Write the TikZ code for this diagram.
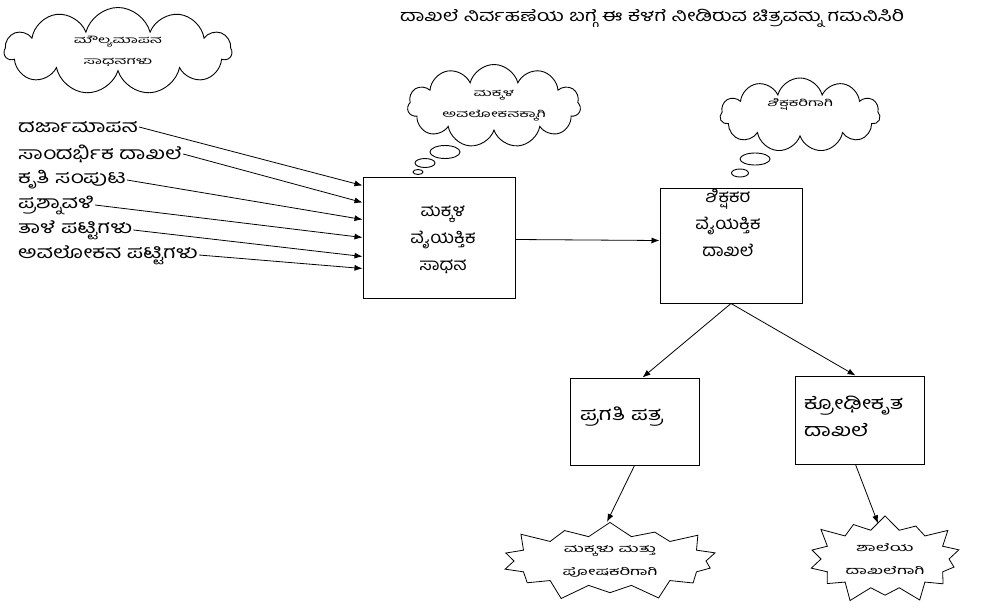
\documentclass[tikz,border=0pt]{standalone}
\usepackage{fontspec}
\newfontfamily\kn[Script=Kannada,FakeStretch=1.3]{Hind Mysuru}
\newfontfamily\knn[Script=Kannada,FakeStretch=1.1]{Hind Mysuru}
\newfontfamily\knw[Script=Kannada,FakeStretch=1.7]{Hind Mysuru}
\usetikzlibrary{shapes.symbols,shapes.geometric,arrows.meta}
\begin{document}
\begin{tikzpicture}[x=1pt,y=-1pt,
  every node/.style={font=\kn},
  box/.style={draw,line width=1pt,inner sep=0pt},
  ktext/.style={font=\knn\fontsize{17}{27}\selectfont,align=center,inner sep=0pt},
  ktextb/.style={font=\kn\fontsize{18}{27}\selectfont,inner sep=0pt},
  listtext/.style={font=\kn\fontsize{17.5}{16}\selectfont,anchor=west,inner sep=1pt},
  cloudbox/.style={cloud,draw,line width=0.9pt,cloud puffs=11,cloud ignores aspect,inner sep=0pt,
     font=\knw\fontsize{10}{21}\selectfont,align=center},
  bubble/.style={ellipse,draw,line width=0.9pt,inner sep=0pt},
  burst/.style={starburst,draw,line width=0.8pt,starburst points=14,starburst point height=19pt,
     inner sep=0pt,font=\knw\fontsize{11}{23}\selectfont,align=center},
  arr/.style={-{Latex[length=8pt,width=6pt]},line width=0.8pt}]
\useasboundingbox[fill=white] (0,0) rectangle (992,608);

% title
\node[font=\kn\fontsize{16.4}{18}\selectfont] (title) at (652,18) {ದಾಖಲೆ ನಿರ್ವಹಣೆಯ ಬಗ್ಗೆ ಈ ಕೆಳಗೆ ನೀಡಿರುವ ಚಿತ್ರವನ್ನು ಗಮನಿಸಿರಿ};

% clouds
\node[cloudbox,minimum width=227pt,minimum height=87pt] (c1) at (118,51) {ಮೌಲ್ಯಮಾಪನ\\ಸಾಧನಗಳು};
\node[cloudbox,minimum width=173pt,minimum height=83pt] (c2) at (494,106) {ಮಕ್ಕಳ\\ಅವಲೋಕನಕ್ಕಾಗಿ};
\node[cloudbox,minimum width=160pt,minimum height=74pt] (c3) at (800,115) {ಶಿಕ್ಷಕರಿಗಾಗಿ\\[4pt]};
\node[bubble,minimum width=30pt,minimum height=13pt] (b1) at (445,152) {};
\node[bubble,minimum width=20pt,minimum height=9pt] (b2) at (425,163) {};
\node[bubble,minimum width=10pt,minimum height=5pt] (b3) at (418,172) {};
\node[bubble,minimum width=30pt,minimum height=12pt] (b4) at (755,159) {};
\node[bubble,minimum width=17pt,minimum height=8pt] (b5) at (740,173) {};

% list
\node[listtext] (l1) at (17,127) {ದರ್ಜಾಮಾಪನ};
\node[listtext] (l2) at (17,154) {ಸಾಂದರ್ಭಿಕ ದಾಖಲೆ};
\node[listtext] (l3) at (17,180) {ಕೃತಿ ಸಂಪುಟ};
\node[listtext] (l4) at (17,205) {ಪ್ರಶ್ನಾವಳಿ};
\node[listtext] (l5) at (17,230) {ತಾಳೆ ಪಟ್ಟಿಗಳು};
\node[listtext] (l6) at (17,255) {ಅವಲೋಕನ ಪಟ್ಟಿಗಳು};

% boxes
\node[box,minimum width=152pt,minimum height=121pt] (m1) at (439,237.5) {};
\node[ktext] (m1t) at (443,240) {ಮಕ್ಕಳ\\ವೈಯಕ್ತಿಕ\\ಸಾಧನ};
\node[box,minimum width=142pt,minimum height=115pt] (m2) at (731,245.5) {};
\node[ktext,anchor=north] (m2t) at (728,189) {ಶಿಕ್ಷಕರ\\ವೈಯಕ್ತಿಕ\\ದಾಖಲೆ};
\node[box,minimum width=129pt,minimum height=87pt] (m3) at (634.5,421.5) {};
\node[ktextb,anchor=west] (m3t) at (580,417) {ಪ್ರಗತಿ ಪತ್ರ};
\node[box,minimum width=129pt,minimum height=88pt] (m4) at (859.5,420) {};
\node[ktextb,anchor=north west,align=left] (m4t) at (804,396) {ಕ್ರೋಢೀಕೃತ\\ದಾಖಲೆ};

% starbursts
\node[burst,minimum width=230pt,minimum height=88pt] (s1) at (610,561) {ಮಕ್ಕಳು ಮತ್ತು\\ಪೋಷಕರಿಗಾಗಿ};
\node[burst,minimum width=166pt,minimum height=97pt] (s2) at (885,559) {ಶಾಲೆಯ\\ದಾಖಲೆಗಾಗಿ};

% connectors
\draw[arr] (l1.east) -- ([yshift=-9pt]m1.north west);
\draw[arr] (l2.east) -- ([yshift=-26pt]m1.north west);
\draw[arr] (l3.east) -- ([yshift=-43pt]m1.north west);
\draw[arr] (l4.east) -- ([yshift=-61pt]m1.north west);
\draw[arr] (l5.east) -- ([yshift=-80pt]m1.north west);
\draw[arr] (l6.east) -- ([yshift=-92pt]m1.north west);
\draw[arr] ([yshift=-63pt]m1.north east) -- ([yshift=-53pt]m2.north west);
\draw[arr] (m2.south) -- ([xshift=8pt]m3.north);
\draw[arr] (m2.south) -- ([xshift=-4pt]m4.north);
\draw[arr] (m3.south) -- ([xshift=-3pt]s1.north);
\draw[arr] ([xshift=-4pt]m4.south) -- ([xshift=-7pt,yshift=-8pt]s2.north);
\end{tikzpicture}
\end{document}
